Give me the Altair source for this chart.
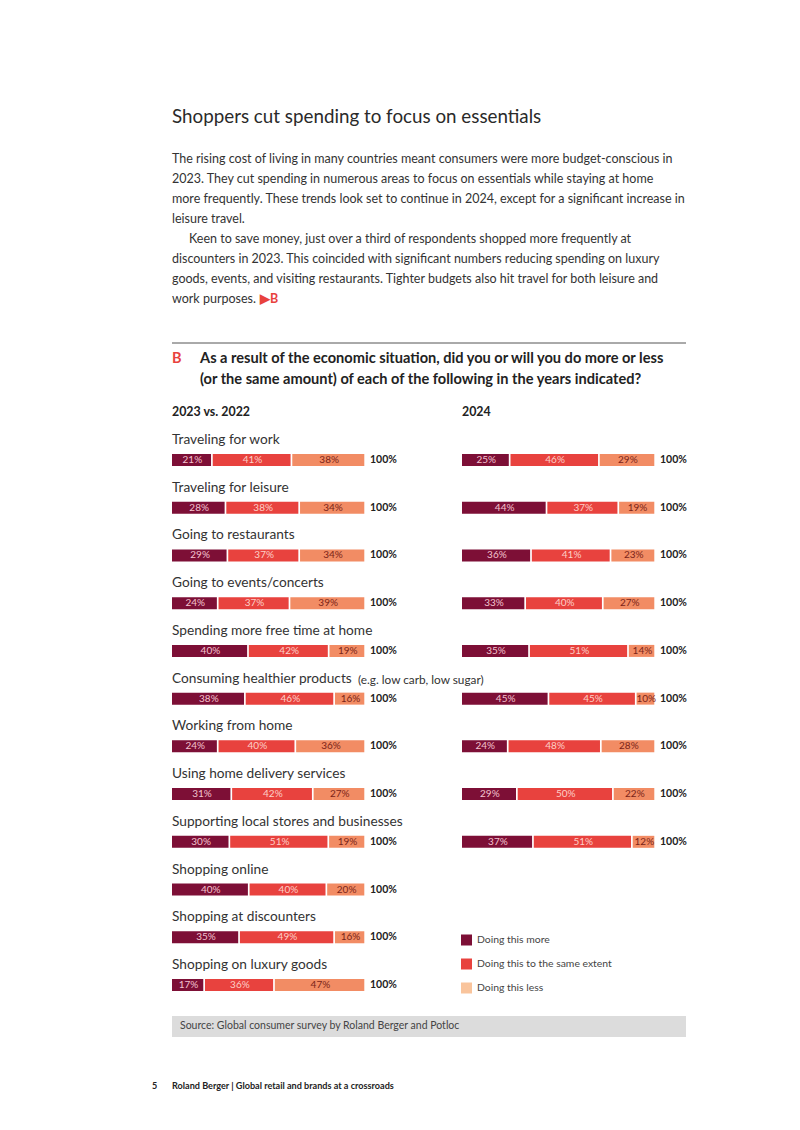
import altair as alt
import pandas as pd

# ---------------- data ----------------
cats = [
    "Traveling for work",
    "Traveling for leisure",
    "Going to restaurants",
    "Going to events/concerts",
    "Spending more free time at home",
    "Consuming healthier products",
    "Working from home",
    "Using home delivery services",
    "Supporting local stores and businesses",
    "Shopping online",
    "Shopping at discounters",
    "Shopping on luxury goods",
]
notes = ["", "", "", "", "", "(e.g. low carb, low sugar)", "", "", "", "", "", ""]

more_2023 = [21, 28, 29, 24, 40, 38, 24, 31, 30, 40, 35, 17]
same_2023 = [41, 38, 37, 37, 42, 46, 40, 42, 51, 40, 49, 36]
less_2023 = [38, 34, 34, 39, 19, 16, 36, 27, 19, 20, 16, 47]

cats_2024 = cats[:9]
more_2024 = [25, 44, 36, 33, 35, 45, 24, 29, 37]
same_2024 = [46, 37, 41, 40, 51, 45, 48, 50, 51]
less_2024 = [29, 19, 23, 27, 14, 10, 28, 22, 12]

answers = ["Doing this more", "Doing this to the same extent", "Doing this less"]
total_label = "100%"

title = "Shoppers cut spending to focus on essentials"
para1 = [
    "The rising cost of living in many countries meant consumers were more budget-conscious in",
    "2023. They cut spending in numerous areas to focus on essentials while staying at home",
    "more frequently. These trends look set to continue in 2024, except for a significant increase in",
    "leisure travel.",
]
para2_first = "Keen to save money, just over a third of respondents shopped more frequently at"
para2_rest = [
    "discounters in 2023. This coincided with significant numbers reducing spending on luxury",
    "goods, events, and visiting restaurants. Tighter budgets also hit travel for both leisure and",
    "work purposes.",
]
question = [
    "As a result of the economic situation, did you or will you do more or less",
    "(or the same amount) of each of the following in the years indicated?",
]
panel_titles = ["2023 vs. 2022", "2024"]
source = "Source: Global consumer survey by Roland Berger and Potloc"
footer = "Roland Berger | Global retail and brands at a crossroads"
page_no = "5"

# ---------------- styles ----------------
FONT = "Lato"
W, H = 784, 1114
UNIT = 194.0  # pixels for a full (100%) bar
bar_colors = ["#7d0f36", "#e8423e", "#f28c64"]
label_colors = ["#f4c3cf", "#fdd0c8", "#7a2418"]
legend_colors = ["#7d0f36", "#e8423e", "#f9c49c"]
TXT = "#333333"


def P(v):
    return v - 8


def long_df(cat_list, series):
    rows = []
    for i, c in enumerate(cat_list):
        for k, vals in enumerate(series):
            rows.append({"cat": c, "answer": answers[k], "order": k, "value": vals[i]})
    return pd.DataFrame(rows)


one = pd.DataFrame({"a": [0]})
ycat = alt.Scale(type="point", domain=cats, range=[P(460), P(985)], padding=0)


def static_text(text, x, y, size, color=TXT, weight="normal", align="left"):
    return alt.Chart(one).mark_text(
        text=text, font=FONT, fontSize=size, color=color, fontWeight=weight,
        align=align, baseline="middle"
    ).encode(x=alt.value(P(x)), y=alt.value(P(y)))


def panel(df, x0_page):
    d0 = -P(x0_page) / UNIT
    d1 = d0 + W / UNIT
    xs = alt.Scale(domain=[d0, d1], nice=False, zero=False)
    base = (
        alt.Chart(df)
        .transform_window(cum="sum(value)", groupby=["cat"],
                          sort=[alt.SortField("order")], frame=[None, 0])
        .transform_joinaggregate(total="sum(value)", groupby=["cat"])
        .transform_calculate(
            start="(datum.cum - datum.value) / datum.total",
            end="datum.cum / datum.total",
            mid="(datum.cum - datum.value / 2) / datum.total",
            lab="datum.value + '%'",
        )
    )
    bars = base.mark_bar(height=12, x2Offset=-1.7).encode(
        x=alt.X("start:Q", scale=xs, axis=None),
        x2="end:Q",
        y=alt.Y("cat:N", scale=ycat, axis=None),
        color=alt.Color("answer:N", scale=alt.Scale(domain=answers, range=bar_colors), legend=None),
    )
    labs = base.mark_text(font=FONT, fontSize=10, baseline="middle", align="center").encode(
        x=alt.X("mid:Q", scale=xs, axis=None),
        y=alt.Y("cat:N", scale=ycat, axis=None),
        text="lab:N",
        color=alt.Color("answer:N", scale=alt.Scale(domain=answers, range=label_colors), legend=None),
    )
    tots = base.transform_filter("datum.order == 2").mark_text(
        font=FONT, fontSize=10.5, fontWeight="bold", color="#222222",
        align="left", baseline="middle", dx=4,
    ).encode(
        x=alt.X("end:Q", scale=xs, axis=None),
        y=alt.Y("cat:N", scale=ycat, axis=None),
        text=alt.value(total_label),
    )
    return [bars, labs, tots]


layers = []

# header texts
layers.append(static_text(title, 172, 117, 18.8, color="#2a2a2a"))
for i, line in enumerate(para1):
    layers.append(static_text(line, 172, 159 + 20 * i, 12.5))
layers.append(static_text(para2_first, 189, 239, 12.5))
for i, line in enumerate(para2_rest):
    layers.append(static_text(line, 172, 259 + 20 * i, 12.5))
layers.append(static_text("\u25B6B", 260, 299, 12.5, color="#e8423e", weight="bold"))

# rule
layers.append(
    alt.Chart(one).mark_rule(color="#555555", strokeWidth=1).encode(
        x=alt.value(P(172)), x2=alt.value(P(686)), y=alt.value(P(343))
    )
)
layers.append(static_text("B", 172, 359, 14.5, color="#e8423e", weight="bold"))
for i, line in enumerate(question):
    layers.append(static_text(line, 200, 359 + 21 * i, 14.6, color="#222222", weight="bold"))
layers.append(static_text(panel_titles[0], 172, 412, 12.4, color="#222222", weight="bold"))
layers.append(static_text(panel_titles[1], 462, 412, 12.4, color="#222222", weight="bold"))

# category labels
cat_df = pd.DataFrame({"cat": cats, "note": notes})
layers.append(
    alt.Chart(cat_df).mark_text(font=FONT, fontSize=13.7, color=TXT, align="left",
                                baseline="middle", dy=-20).encode(
        x=alt.value(P(172)), y=alt.Y("cat:N", scale=ycat, axis=None), text="cat:N"
    )
)
layers.append(
    alt.Chart(cat_df).transform_filter("datum.note != ''").mark_text(
        font=FONT, fontSize=11.8, color=TXT, align="left", baseline="middle", dy=-19
    ).encode(x=alt.value(P(358)), y=alt.Y("cat:N", scale=ycat, axis=None), text="note:N")
)

# panels
layers += panel(long_df(cats, [more_2023, same_2023, less_2023]), 172)
layers += panel(long_df(cats_2024, [more_2024, same_2024, less_2024]), 462)

# legend
leg_df = pd.DataFrame({"answer": answers})
leg_y = alt.Scale(type="point", domain=answers, range=[P(940), P(988)], padding=0)
layers.append(
    alt.Chart(leg_df).mark_square(size=121, opacity=1).encode(
        x=alt.value(P(466.5)),
        y=alt.Y("answer:N", scale=leg_y, axis=None),
        color=alt.Color("answer:N", scale=alt.Scale(domain=answers, range=legend_colors), legend=None),
    )
)
layers.append(
    alt.Chart(leg_df).mark_text(font=FONT, fontSize=10.4, color="#444444", align="left",
                                baseline="middle").encode(
        x=alt.value(P(477)), y=alt.Y("answer:N", scale=leg_y, axis=None), text="answer:N"
    )
)

# source box
layers.append(
    alt.Chart(one).mark_rect(color="#dcdcdc").encode(
        x=alt.value(P(172)), x2=alt.value(P(686)), y=alt.value(P(1016)), y2=alt.value(P(1037))
    )
)
layers.append(static_text(source, 180, 1026, 10.5, color="#444444"))

# footer
layers.append(static_text(page_no, 152, 1086, 9, color="#222222", weight="bold"))
layers.append(static_text(footer, 172, 1086, 9.1, color="#222222", weight="bold"))

chart = (
    alt.layer(*layers)
    .resolve_scale(x="independent", y="independent", color="independent")
    .properties(width=W, height=H, padding=0, autosize=alt.AutoSizeParams(type="none"),
                background="white")
    .configure_view(stroke=None)
)

chart.save("out.html", embed_options={"renderer": "svg", "actions": False})
